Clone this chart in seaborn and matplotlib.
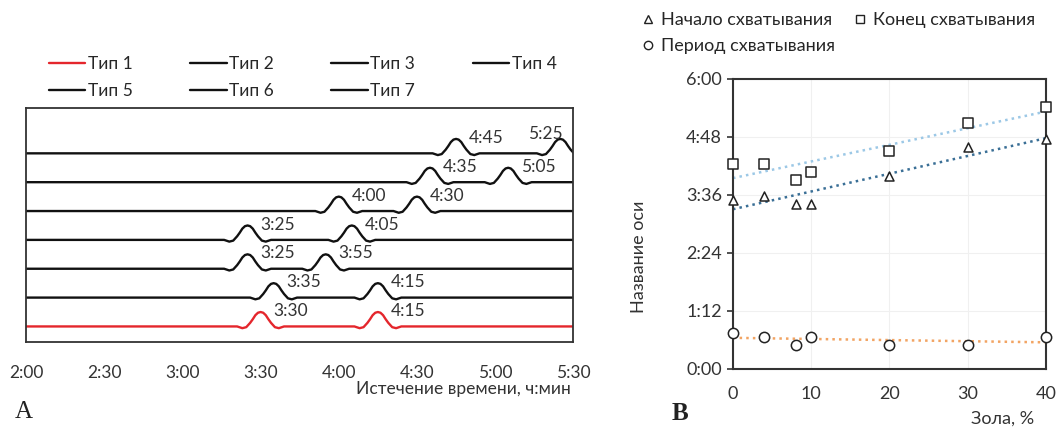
import numpy as np
import pandas as pd
import matplotlib
matplotlib.use("Agg")
import matplotlib.pyplot as plt
import seaborn as sns
from matplotlib.ticker import FuncFormatter
from matplotlib.lines import Line2D

# --------- data -------------------------------
TYPES = ["Тип 1", "Тип 2", "Тип 3", "Тип 4", "Тип 5", "Тип 6", "Тип 7"]
START = ["3:30", "3:35", "3:25", "3:25", "4:00", "4:35", "4:45"]   # first peak / start of setting
END = ["4:15", "4:15", "3:55", "4:05", "4:30", "5:05", "5:25"]     # second peak / end of setting
ASH = [0, 4, 8, 10, 20, 30, 40]                                     # Зола, %
PERIOD = ["0:45", "0:40", "0:30", "0:40", "0:30", "0:30", "0:40"]  # setting period
X_TICKS = ["2:00", "2:30", "3:00", "3:30", "4:00", "4:30", "5:00", "5:30"]
Y_TICKS = ["0:00", "1:12", "2:24", "3:36", "4:48", "6:00"]

# shape of one peak on the schematic traces (minutes offset, fraction of peak height)
PEAK_DT = [-9, -7, -5.5, -4, -3, -2, -1, 0, 1, 2, 3, 4, 5.5, 7, 9]
PEAK_DY = [0, -0.12, -0.05, 0.25, 0.5, 0.78, 0.95, 1, 0.95, 0.78, 0.5, 0.25, -0.05, -0.12, 0]
PEAK_H = 0.5
# ---------------------------------------------


def to_min(s):
    h, m = s.split(":")
    return int(h) * 60 + int(m)


def fmt_time(v, pos=None):
    v = int(round(v))
    return f"{v // 60}:{v % 60:02d}"


sns.set_theme(style="white")
plt.rcParams["font.family"] = ["Lato", "DejaVu Sans"]
plt.rcParams["font.size"] = 12.5
FS = 12.5

fig = plt.figure(figsize=(10.58, 4.28), dpi=100)
axL = fig.add_axes([0.0246, 0.2002, 0.5173, 0.5467])
axR = fig.add_axes([0.6928, 0.1379, 0.2958, 0.6776])

# ---- panel A: schematic traces ----
x_min, x_max = to_min(X_TICKS[0]), to_min(X_TICKS[-1])
rows = []
for i, t in enumerate(TYPES):
    xs, ys = [x_min], [i]
    for p in (to_min(START[i]), to_min(END[i])):
        for dt, dy in zip(PEAK_DT, PEAK_DY):
            xs.append(p + dt)
            ys.append(i + PEAK_H * dy)
    if xs[-1] < x_max:
        xs.append(x_max)
        ys.append(i)
    rows += [{"type": t, "x": x, "y": y} for x, y in zip(xs, ys)]
traces = pd.DataFrame(rows)

colors = {t: ("#e4262c" if t == TYPES[0] else "#111111") for t in TYPES}
sns.lineplot(data=traces, x="x", y="y", hue="type", palette=colors, estimator=None,
             sort=False, lw=1.7, legend=False, ax=axL)

for i in range(len(TYPES)):
    for lab in (START[i], END[i]):
        p = to_min(lab)
        if p > x_max - 10:
            axL.text(p + 1, i + 0.68, lab, ha="right", va="center", color="#333333", fontsize=FS)
        else:
            axL.text(p + 5.0, i + 0.53, lab, ha="left", va="center", color="#333333", fontsize=FS)

axL.set_xlim(x_min, x_max)
axL.set_ylim(-0.55, 7.56)
axL.set_xticks([to_min(s) for s in X_TICKS])
axL.set_xticklabels(X_TICKS)
axL.set_yticks([])
axL.tick_params(axis="x", length=0, pad=16, colors="#333333", labelsize=FS)
axL.set_xlabel("Истечение времени, ч:мин", color="#333333", fontsize=FS)
axL.xaxis.set_label_coords(0.80, -0.20)
axL.xaxis.label.set_va("center")
axL.set_ylabel("")
for sp in axL.spines.values():
    sp.set_color("#333333")
    sp.set_linewidth(1.3)

hL = [Line2D([], [], color=colors[t], lw=1.7) for t in TYPES]
order = [0, 4, 1, 5, 2, 6, 3]
fig.legend([hL[k] for k in order], [TYPES[k] for k in order], ncol=4,
           loc="upper left", bbox_to_anchor=(49 / 1058, 1 - 56 / 428),
           frameon=False, borderpad=0, borderaxespad=0, handlelength=2.1,
           handletextpad=0.15, columnspacing=3.3, labelspacing=0.65, fontsize=FS)

# ---- panel B: setting times vs ash ----
start_min = [to_min(s) for s in START]
end_min = [to_min(s) for s in END]
period_min = [to_min(s) for s in PERIOD]

axR.grid(True, color="#f0f0f0", lw=0.8)
series = [
    (start_min, "^", "#3a6f96", 42),
    (end_min, "s", "#9cc8e6", 50),
    (period_min, "o", "#f2a463", 55),
]
for vals, mk, lc, size in series:
    sns.regplot(x=ASH, y=vals, scatter=False, ci=None, truncate=True,
                line_kws=dict(ls=":", color=lc, lw=1.8), ax=axR)
    sns.scatterplot(x=ASH, y=vals, marker=mk, s=size, facecolor="white",
                    edgecolor="#222222", linewidth=1.1, clip_on=False, zorder=5, ax=axR)

axR.set_xlim(0, 40)
axR.set_ylim(0, 360)
axR.set_xticks([0, 10, 20, 30, 40])
axR.set_yticks([to_min(s) for s in Y_TICKS])
axR.yaxis.set_major_formatter(FuncFormatter(fmt_time))
axR.tick_params(axis="both", labelsize=13)
axR.tick_params(axis="y", length=4, width=1.2, color="#333333", pad=4, colors="#333333", left=True)
axR.tick_params(axis="x", length=0, pad=12, colors="#333333")
for sp in axR.spines.values():
    sp.set_color("#333333")
    sp.set_linewidth(1.5)
axR.set_ylabel("Название оси", color="#333333", fontsize=13)
axR.yaxis.set_label_coords(-0.30, 0.386)
axR.yaxis.label.set_va("center")
axR.set_xlabel("Зола, %", color="#333333", fontsize=13)
axR.xaxis.set_label_coords(0.862, -0.17)
axR.xaxis.label.set_va("center")

hR = [Line2D([], [], ls="none", marker=m, ms=6, mfc="white", mec="#222222", mew=1.0)
      for m in ("^", "s", "o")]
namesR = ["Начало схватывания", "Конец схватывания", "Период схватывания"]
fig.legend([hR[0], hR[2], hR[1]], [namesR[0], namesR[2], namesR[1]], ncol=2,
           loc="upper left", bbox_to_anchor=(641 / 1058, 1 - 12 / 428),
           frameon=False, borderpad=0, borderaxespad=0, handlelength=0.8,
           handletextpad=0.3, columnspacing=1.0, labelspacing=0.55, fontsize=13)

fig.text(15 / 1058, 1 - 412 / 428, "А", family="Liberation Serif", fontsize=18,
         va="center", ha="left", color="#222222")
fig.text(680 / 1058, 1 - 414 / 428, "В", family="Liberation Serif", fontsize=18,
         fontweight="bold", va="center", ha="center", color="#222222")

fig.savefig("out.png", dpi=100)
